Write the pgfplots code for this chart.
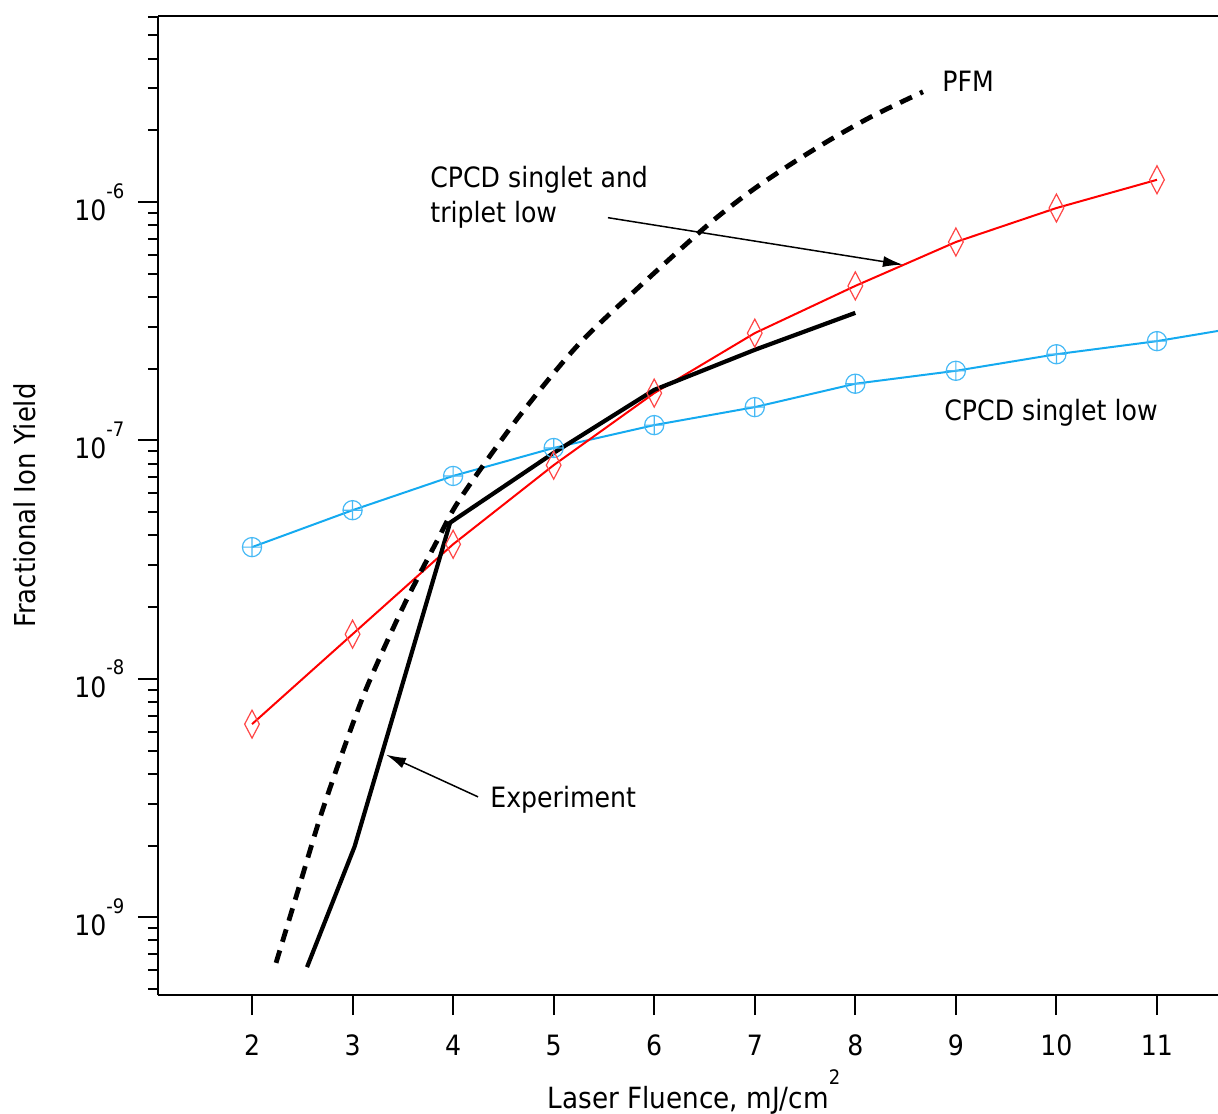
\documentclass[border=0pt]{standalone}
\usepackage{fontspec}
\setmainfont{DejaVu Sans Condensed}
\usepackage{pgfplots}
\pgfplotsset{compat=1.18}
\usetikzlibrary{arrows.meta}
\definecolor{skyline}{RGB}{20,170,240}
\definecolor{skymark}{RGB}{70,185,245}
\definecolor{redline}{RGB}{255,0,0}
\definecolor{redmark}{RGB}{255,70,70}
\newcommand\sups[1]{\raisebox{0.8em}{\fontsize{10}{10}\selectfont #1}}
\begin{document}
\fontsize{14}{17.5}\selectfont
\begin{tikzpicture}
\begin{axis}[
  scale only axis, width=530pt, height=489.5pt,
  xmin=1.065, xmax=11.607,
  ymode=log, ymin=4.72e-10, ymax=6.03e-6,
  axis x line*=box, axis y line*=left,
  xtick pos=left, ytick pos=left,
  tick align=outside,
  major tick length=10pt, minor tick length=5pt,
  every tick/.style={black, line width=1pt},
  axis line style={line width=1pt},
  xtick={2,3,4,5,6,7,8,9,10,11},
  ytick={1e-9,1e-8,1e-7,1e-6},
  yticklabels={10\sups{-9},10\sups{-8},10\sups{-7},10\sups{-6}},
  minor ytick={5e-10,6e-10,7e-10,8e-10,9e-10,
    2e-9,3e-9,4e-9,5e-9,6e-9,7e-9,8e-9,9e-9,
    2e-8,3e-8,4e-8,5e-8,6e-8,7e-8,8e-8,9e-8,
    2e-7,3e-7,4e-7,5e-7,6e-7,7e-7,8e-7,9e-7,
    2e-6,3e-6,4e-6,5e-6,6e-6},
  /pgf/number format/assume math mode=true,
  xticklabel shift=5pt, yticklabel shift=2pt,
]
% CPCD singlet low
\addplot[skyline, line width=1pt, mark=oplus, mark size=4.8pt,
  mark options={skymark, line width=0.6pt, solid}] coordinates {
  (2,3.57e-8) (3,5.1e-8) (4,7.1e-8) (5,9.3e-8) (6,1.16e-7) (7,1.38e-7)
  (8,1.73e-7) (9,1.96e-7) (10,2.30e-7) (11,2.61e-7) (12,3.07e-7)
};
% CPCD singlet and triplet low
\addplot[redline, line width=1pt, mark=diamond, mark size=7pt,
  mark options={redmark, line width=0.6pt, xscale=0.7, solid}] coordinates {
  (2,6.46e-9) (3,1.54e-8) (4,3.67e-8) (5,7.88e-8) (6,1.58e-7) (7,2.82e-7)
  (8,4.45e-7) (9,6.8e-7) (10,9.44e-7) (11,1.24e-6)
};
% Experiment
\addplot[black, line width=2.1pt, no marks] coordinates {
  (2.547,6.18e-10) (3.02,1.98e-9) (3.97,4.52e-8) (5,8.87e-8) (6,1.63e-7)
  (7,2.40e-7) (8,3.43e-7)
};
% PFM
\addplot[black, line width=2.4pt, dash pattern=on 6.5pt off 4.5pt, smooth, tension=0.5, no marks] coordinates {
  (2.239,6.44e-10) (2.477,1.38e-9) (2.676,2.61e-9) (2.905,4.99e-9) (3.144,9.27e-9)
  (3.502,2.00e-8) (3.840,3.79e-8) (4.069,5.69e-8) (4.636,1.23e-7) (5.233,2.49e-7)
  (5.830,4.33e-7) (6.525,7.96e-7) (6.953,1.104e-6) (7.351,1.435e-6) (7.749,1.824e-6)
  (8.176,2.30e-6) (8.673,2.90e-6)
};
\node[anchor=west, inner sep=0pt] at (axis cs:8.862,3.2e-6) {PFM};
\node[anchor=west, align=left, inner sep=0pt] at (axis cs:3.77,1.052e-6) {CPCD singlet and\\triplet low};
\draw[-{Latex[length=10pt,width=5.5pt]}, line width=0.75pt] (axis cs:5.540,8.6e-7) -- (axis cs:8.474,5.46e-7);
\node[anchor=west, inner sep=0pt] at (axis cs:4.367,3.11e-9) {Experiment};
\draw[-{Latex[length=10pt,width=5.5pt]}, line width=0.75pt] (axis cs:4.248,3.20e-9) -- (axis cs:3.333,4.81e-9);
\node[anchor=west, inner sep=0pt] at (axis cs:8.882,1.306e-7) {CPCD singlet low};
\coordinate (bl) at (rel axis cs:0,0);
\coordinate (tr) at (rel axis cs:1,1);
\coordinate (ymid) at (rel axis cs:0,0.5);
\coordinate (xmid) at (rel axis cs:0.5,0);
\end{axis}
\node[rotate=90, font=\fontsize{14.4}{17}\selectfont] at ([xshift=-66.5pt]ymid) {Fractional Ion Yield};
\node[anchor=base, font=\fontsize{14.6}{17}\selectfont] at ([xshift=3pt,yshift=-56.5pt]xmid) {Laser Fluence, mJ/cm\sups{2}};
\pgfresetboundingbox
\useasboundingbox ([xshift=-79pt,yshift=-59pt]bl) rectangle ([yshift=8pt]tr);
\end{tikzpicture}
\end{document}
